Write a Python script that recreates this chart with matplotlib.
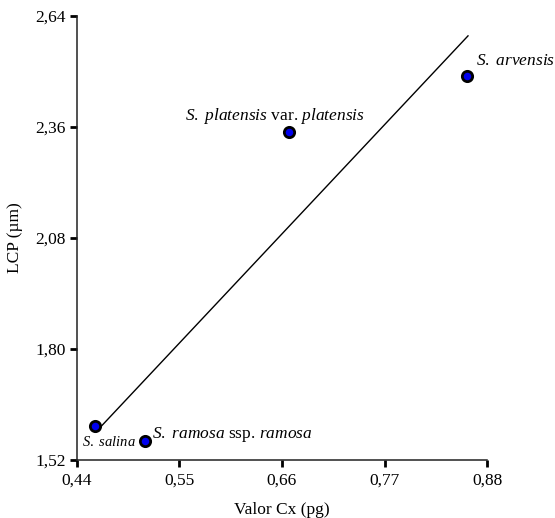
import matplotlib
matplotlib.use('Agg')
import matplotlib.pyplot as plt

plt.rcParams['font.family'] = ['Liberation Serif', 'DejaVu Serif']
plt.rcParams['mathtext.fontset'] = 'custom'
plt.rcParams['mathtext.rm'] = 'Liberation Serif'
plt.rcParams['mathtext.it'] = 'Liberation Serif:italic'

# values
cx = [0.459, 0.513, 0.6675, 0.8585]
lcp = [1.606, 1.568, 2.347, 2.489]
names = [r'$\mathit{S.\ salina}$',
         r'$\mathit{S.\ ramosa}$ ssp. $\mathit{ramosa}$',
         r'$\mathit{S.\ platensis}$ var. $\mathit{platensis}$',
         r'$\mathit{S.\ arvensis}$']
fit_x = [0.4604, 0.8596]
fit_y = [1.591, 2.590]
xticks = [0.44, 0.55, 0.66, 0.77, 0.88]
yticks = [1.52, 1.80, 2.08, 2.36, 2.64]

fig = plt.figure(figsize=(5.55, 5.18), dpi=100)
ax = fig.add_axes([0.1387, 0.112, 0.7388, 0.857])

ax.plot(fit_x, fit_y, color='black', lw=1.0, zorder=2)
ax.scatter(cx, lcp, s=55, color='#0000ee', edgecolor='black', linewidth=2.0, zorder=3)

# labels next to points: (dx, dy) in pixels, alignment, size
offs = [(14, -16, 'center', 10.5), (7, 6, 'left', 12.5), (-14, 16, 'center', 12.5), (9, 15, 'left', 12.5)]
for x, y, t, (dx, dy, ha, fs) in zip(cx, lcp, names, offs):
    ax.annotate(t, (x, y), xytext=(dx * 0.72, dy * 0.72), textcoords='offset points',
                ha=ha, va='center', fontsize=fs)

ax.set_xlim(0.44, 0.88)
ax.set_ylim(1.52, 2.64)
ax.set_xticks(xticks)
ax.set_yticks(yticks)
ax.set_xticklabels([('%.2f' % v).replace('.', ',') for v in xticks])
ax.set_yticklabels([('%.2f' % v).replace('.', ',') for v in yticks])
ax.tick_params(direction='out', length=5, width=2, labelsize=12.5, pad=3)
ax.tick_params(axis='x', pad=4)
for s in ['top', 'right']:
    ax.spines[s].set_visible(False)
for s in ['left', 'bottom']:
    ax.spines[s].set_linewidth(1.1)
    ax.spines[s].set_color('#222222')

ax.set_xlabel('Valor Cx (pg)', fontsize=12.5, labelpad=10)
ax.set_ylabel('LCP (µm)', fontsize=12.5, labelpad=9)

fig.savefig('out.png', dpi=100)
